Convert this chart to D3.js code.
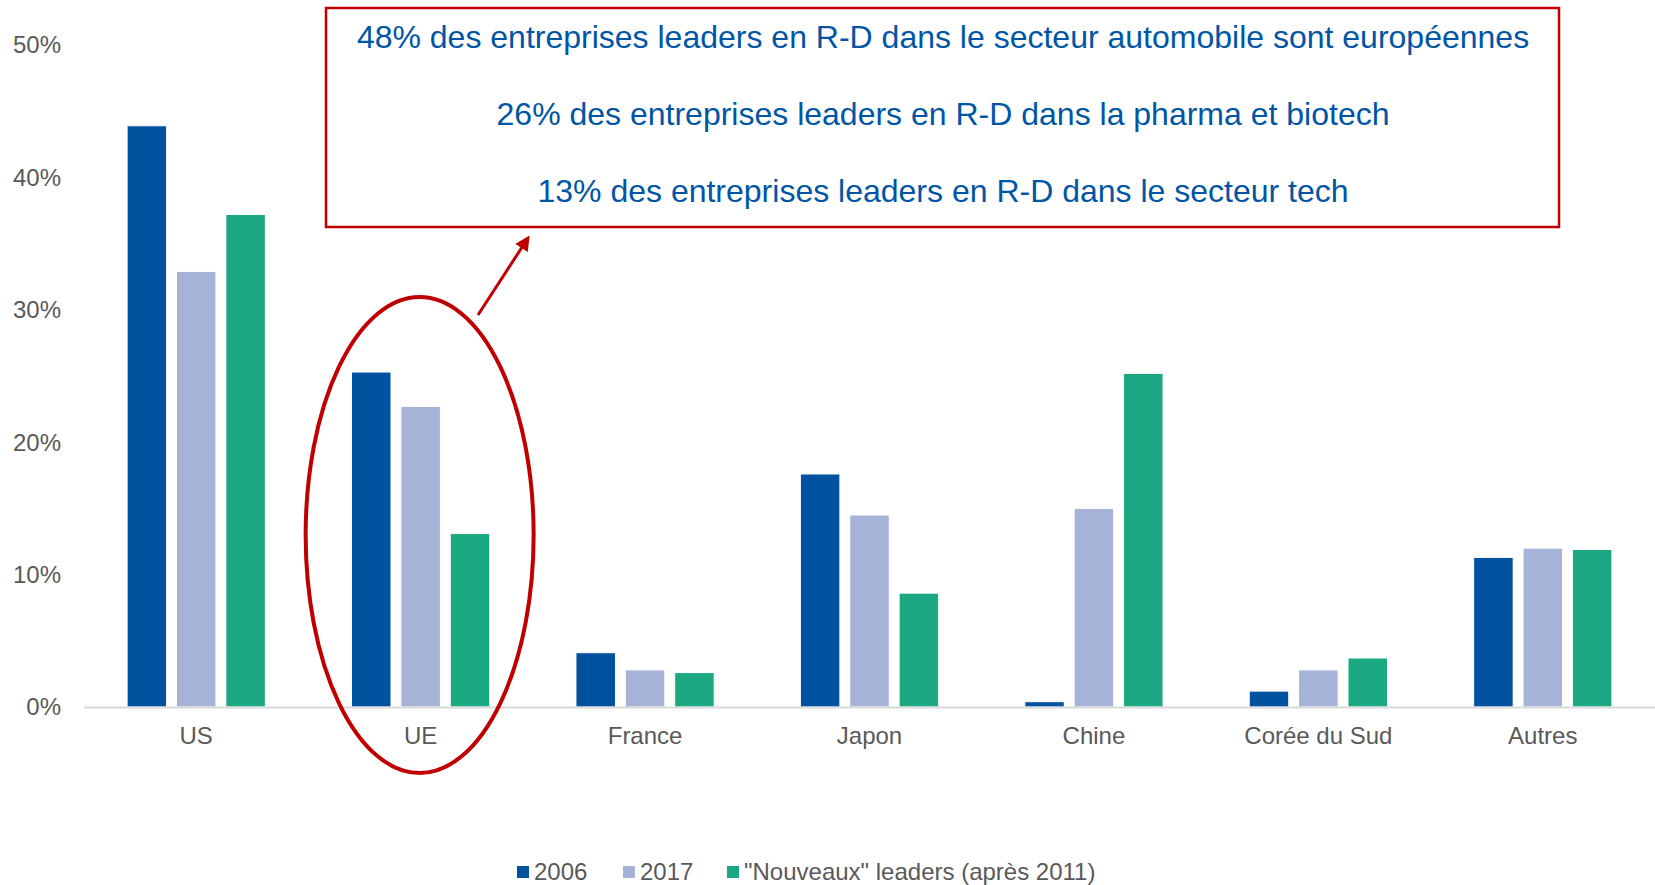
<!DOCTYPE html>
<html>
<head>
<meta charset="utf-8">
<script src="https://cdn.jsdelivr.net/npm/d3@7"></script>
<style>
  body { margin: 0; background: #fff; }
  text { font-family: "Liberation Sans", Arial, sans-serif; }
</style>
</head>
<body>
<div></div>
<script>
var width = 1655;
var height = 885;

// data
var categories = ["US", "UE", "France", "Japon", "Chine", "Corée du Sud", "Autres"];
var seriesNames = ["2006", "2017", "\"Nouveaux\" leaders (après 2011)"];
var values2006 = [0.439, 0.253, 0.041, 0.176, 0.004, 0.012, 0.113];
var values2017 = [0.329, 0.227, 0.028, 0.145, 0.150, 0.028, 0.120];
var valuesNew = [0.372, 0.131, 0.026, 0.086, 0.252, 0.037, 0.119];
var yTicks = [0, 0.1, 0.2, 0.3, 0.4, 0.5];
var notes = [
	"48% des entreprises leaders en R-D dans le secteur automobile sont européennes",
	"26% des entreprises leaders en R-D dans la pharma et biotech",
	"13% des entreprises leaders en R-D dans le secteur tech"
];

var colors = ["#00519e", "#a6b3d8", "#1ba882"];
var allValues = [values2006, values2017, valuesNew];

var svg = d3.select("div")
	.append("svg")
	.attr("width", width)
	.attr("height", height);

var x0 = d3.scaleBand()
	.domain(categories)
	.range([84, 1655])
	.paddingInner(0.384)
	.paddingOuter(0.192);

var x1 = d3.scaleBand()
	.domain(d3.range(3))
	.range([0, x0.bandwidth()])
	.paddingInner(0.2);

var y = d3.scaleLinear()
	.domain([0, 0.5])
	.range([707, 45]);

// y tick labels
svg.append("g")
	.selectAll("text")
	.data(yTicks)
	.enter()
	.append("text")
	.attr("x", 61)
	.attr("y", d => y(d))
	.attr("dy", "0.35em")
	.attr("text-anchor", "end")
	.attr("font-size", 24)
	.attr("fill", "#595959")
	.text(d3.format(".0%"));

// bars
var groups = svg.append("g")
	.selectAll("g")
	.data(categories)
	.enter()
	.append("g")
	.attr("transform", d => "translate(" + x0(d) + ",0)");

groups.selectAll("rect")
	.data((d, i) => allValues.map((vals, s) => ({ s: s, v: vals[i] })))
	.enter()
	.append("rect")
	.attr("x", d => x1(d.s))
	.attr("width", x1.bandwidth())
	.attr("y", d => y(d.v))
	.attr("height", d => y(0) - y(d.v))
	.attr("fill", d => colors[d.s])
	.attr("stroke", "#fff")
	.attr("stroke-width", 1);

// axis line
svg.append("line")
	.attr("x1", 84)
	.attr("x2", 1655)
	.attr("y1", y(0) + 0.5)
	.attr("y2", y(0) + 0.5)
	.attr("stroke", "#d9d9d9")
	.attr("stroke-width", 2);

// category labels
svg.append("g")
	.selectAll("text")
	.data(categories)
	.enter()
	.append("text")
	.attr("x", d => x0(d) + x0.bandwidth() / 2)
	.attr("y", 736)
	.attr("dy", "0.35em")
	.attr("text-anchor", "middle")
	.attr("font-size", 24)
	.attr("fill", "#595959")
	.text(d => d);

// ellipse round UE
svg.append("ellipse")
	.attr("cx", x0("UE") + x0.bandwidth() / 2 - 1)
	.attr("cy", 535)
	.attr("rx", 114)
	.attr("ry", 238)
	.attr("fill", "none")
	.attr("stroke", "#c00000")
	.attr("stroke-width", 4);

// arrow
svg.append("defs").append("marker")
	.attr("id", "arrow")
	.attr("viewBox", "0 0 10 10")
	.attr("refX", 8)
	.attr("refY", 5)
	.attr("markerWidth", 5)
	.attr("markerHeight", 5)
	.attr("orient", "auto")
	.append("path")
	.attr("d", "M0,0L10,5L0,10z")
	.attr("fill", "#c00000");

svg.append("line")
	.attr("x1", 478)
	.attr("y1", 315)
	.attr("x2", 528)
	.attr("y2", 238)
	.attr("stroke", "#c00000")
	.attr("stroke-width", 3)
	.attr("marker-end", "url(#arrow)");

// annotation box
svg.append("rect")
	.attr("x", 326)
	.attr("y", 8)
	.attr("width", 1233)
	.attr("height", 219)
	.attr("fill", "#fff")
	.attr("stroke", "#c00000")
	.attr("stroke-width", 2.5);

svg.append("g")
	.selectAll("text")
	.data(notes)
	.enter()
	.append("text")
	.attr("x", 943)
	.attr("y", (d, i) => 37 + i * 77)
	.attr("dy", "0.35em")
	.attr("text-anchor", "middle")
	.attr("font-size", 32)
	.attr("fill", "#0055a5")
	.text(d => d);

// legend
var legendX = [517, 623, 727];
var legend = svg.append("g")
	.selectAll("g")
	.data(seriesNames)
	.enter()
	.append("g")
	.attr("transform", (d, i) => "translate(" + legendX[i] + ",872)");

legend.append("rect")
	.attr("x", 0)
	.attr("y", -6)
	.attr("width", 12)
	.attr("height", 12)
	.attr("fill", (d, i) => colors[i]);

legend.append("text")
	.attr("x", 17)
	.attr("y", 0)
	.attr("dy", "0.35em")
	.attr("font-size", 24)
	.attr("fill", "#595959")
	.text(d => d);
</script>
</body>
</html>
